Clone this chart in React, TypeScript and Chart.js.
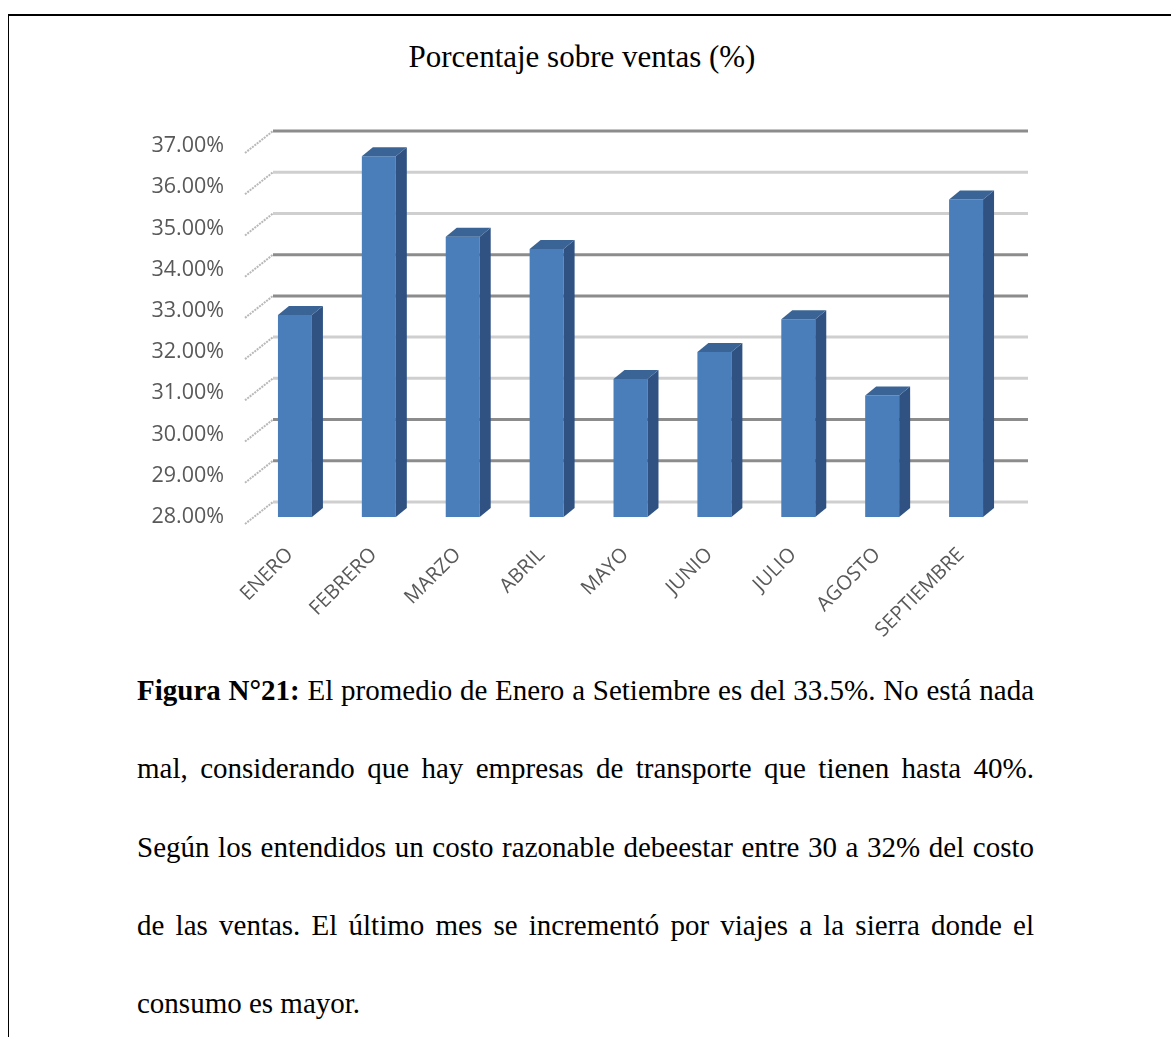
import React, { useEffect, useRef } from 'react';
import { Chart, registerables } from 'chart.js';

Chart.register(...registerables);

// ---- Data ----
const categories = ['ENERO', 'FEBRERO', 'MARZO', 'ABRIL', 'MAYO', 'JUNIO', 'JULIO', 'AGOSTO', 'SEPTIEMBRE'];
const values = [32.9, 36.75, 34.8, 34.5, 31.35, 32.0, 32.8, 30.95, 35.7];
const yMin = 28;
const yMax = 37;
const yStep = 1;
const darkGridValues = [37, 34, 33, 30, 29];
const chartTitle = 'Porcentaje sobre ventas (%)';
const captionBold = 'Figura N°21:';
const captionLines = [
  ' El promedio de Enero a Setiembre es del 33.5%. No está nada',
  'mal, considerando que hay empresas de transporte que tienen hasta 40%.',
  'Según los entendidos un costo razonable debeestar entre 30 a 32% del costo',
  'de las ventas. El último mes se incrementó por viajes a la sierra donde el',
  'consumo es mayor.',
];

// ---- 3D look ----
const WALL_DX = 20;
const WALL_DY = -15;
const BAR_DX = 11;
const BAR_DY = -9;

const threeD = {
  id: 'threeD',
  beforeDatasetsDraw(chart: any) {
    const { ctx, chartArea } = chart;
    const { left, right } = chartArea;
    const ys = chart.scales.y;
    ctx.save();
    for (const t of ys.ticks) {
      const py = ys.getPixelForValue(t.value);
      ctx.strokeStyle = '#b8b8b8';
      ctx.lineWidth = 2;
      ctx.setLineDash([2, 1]);
      ctx.beginPath();
      ctx.moveTo(left - 8, py + 7);
      ctx.lineTo(left + WALL_DX, py + WALL_DY);
      ctx.stroke();
      ctx.setLineDash([]);
      const dark = darkGridValues.includes(Math.round(t.value));
      ctx.strokeStyle = dark ? '#8c8c8c' : '#cfcfcf';
      ctx.lineWidth = 3;
      ctx.beginPath();
      ctx.moveTo(left + WALL_DX, py + WALL_DY);
      ctx.lineTo(right + WALL_DX, py + WALL_DY);
      ctx.stroke();
    }
    ctx.restore();
  },
  afterDatasetsDraw(chart: any) {
    const { ctx } = chart;
    const meta = chart.getDatasetMeta(0);
    const base = chart.scales.y.getPixelForValue(yMin);
    ctx.save();
    for (const bar of meta.data) {
      const { x, y, width } = bar.getProps(['x', 'y', 'width'], true);
      const l = x - width / 2;
      const r = x + width / 2;
      ctx.fillStyle = '#2f5282';
      ctx.beginPath();
      ctx.moveTo(r, y);
      ctx.lineTo(r + BAR_DX, y + BAR_DY);
      ctx.lineTo(r + BAR_DX, base + BAR_DY);
      ctx.lineTo(r, base);
      ctx.closePath();
      ctx.fill();
      ctx.fillStyle = '#3a6495';
      ctx.beginPath();
      ctx.moveTo(l, y);
      ctx.lineTo(l + BAR_DX, y + BAR_DY);
      ctx.lineTo(r + BAR_DX, y + BAR_DY);
      ctx.lineTo(r, y);
      ctx.closePath();
      ctx.fill();
    }
    ctx.restore();
  },
};

function BarChart() {
  const ref = useRef<HTMLCanvasElement | null>(null);
  useEffect(() => {
    if (!ref.current) return;
    const chart = new Chart(ref.current, {
      type: 'bar',
      data: {
        labels: categories,
        datasets: [
          {
            data: values,
            backgroundColor: '#4a7ebb',
            borderWidth: 0,
            categoryPercentage: 1,
            barPercentage: 0.405,
          },
        ],
      },
      options: {
        responsive: false,
        animation: false,
        layout: { padding: { left: 0, right: 163, top: 126, bottom: 0 } },
        plugins: {
          legend: { display: false },
          tooltip: { enabled: false },
          title: { display: false },
        },
        scales: {
          x: {
            offset: true,
            grid: { display: false, drawTicks: false },
            border: { display: false },
            ticks: {
              autoSkip: false,
              minRotation: 45,
              maxRotation: 45,
              padding: 26,
              labelOffset: -5,
              color: '#595959',
              font: { family: "'Open Sans', sans-serif", size: 20 },
            },
            afterFit: (s: any) => {
              s.height = 123;
            },
          },
          y: {
            min: yMin,
            max: yMax,
            grid: { display: false, drawTicks: false },
            border: { display: false },
            ticks: {
              stepSize: yStep,
              padding: 29,
              color: '#595959',
              font: { family: "'Open Sans', sans-serif", size: 21.5 },
              callback: (v: any) => Number(v).toFixed(2) + '%',
            },
            afterFit: (s: any) => {
              s.width = 253;
            },
          },
        },
      },
      plugins: [threeD],
    });
    return () => chart.destroy();
  }, []);
  return (
    <canvas
      ref={ref}
      width={1171}
      height={620}
      style={{ position: 'absolute', left: 0, top: 20, width: 1171, height: 620 }}
    />
  );
}

export default function App() {
  return (
    <div style={{ position: 'absolute', left: 0, top: 0, width: 1171, height: 1037, background: '#fff', overflow: 'hidden' }}>
      <div
        style={{
          position: 'absolute',
          left: 8,
          top: 14,
          width: 1200,
          height: 1100,
          borderTop: '2px solid #000',
          borderLeft: '1px solid #000',
        }}
      />
      <div
        style={{
          position: 'absolute',
          left: 382,
          top: 38,
          width: 400,
          textAlign: 'center',
          fontFamily: "'Liberation Serif', 'Times New Roman', serif",
          fontSize: 31,
          lineHeight: '38px',
          color: '#000',
          whiteSpace: 'nowrap',
        }}
      >
        {chartTitle}
      </div>
      <BarChart />
      <div
        style={{
          position: 'absolute',
          left: 137,
          top: 651,
          width: 897,
          fontFamily: "'Liberation Serif', 'Times New Roman', serif",
          fontSize: 29,
          lineHeight: '78.25px',
          color: '#000',
        }}
      >
        {captionLines.map((ln, i) => (
          <div
            key={i}
            style={{
              textAlign: 'justify',
              textAlignLast: i < captionLines.length - 1 ? 'justify' : 'left',
            }}
          >
            {i === 0 ? <b>{captionBold}</b> : null}
            {ln}
          </div>
        ))}
      </div>
    </div>
  );
}
